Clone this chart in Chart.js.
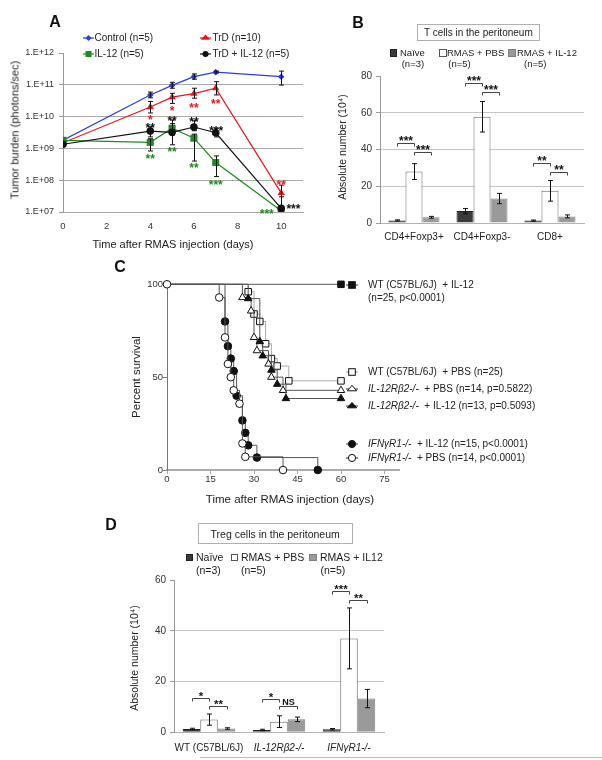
<!DOCTYPE html>
<html>
<head>
<meta charset="utf-8">
<title>Tumor burden, T cells, survival and Treg cells</title>
<script src="https://cdn.jsdelivr.net/npm/chart.js@4.4.0/dist/chart.umd.min.js"></script>
<style>
  body { margin: 0; width: 602px; height: 760px; position: relative; overflow: hidden; background: #fff;
         font-family: "Liberation Sans", Arial, sans-serif; color: #222; }
  canvas { position: absolute; }
  .txt { position: absolute; white-space: nowrap; line-height: 1; font-size: 10px; }
  .c { transform: translate(-50%, -50%); }
  .l { transform: translateY(-50%); }
  .rot { transform: translate(-50%, -50%) rotate(-90deg); }
  .panel { font-weight: bold; font-size: 16px; color: #111; }
  .box { position: absolute; border: 1px solid #b0b0b0; box-sizing: border-box; display: flex;
         align-items: center; justify-content: center; font-size: 10px; }
  .sw { position: absolute; width: 7px; height: 7px; box-sizing: border-box; border: 1px solid #555; }
  .rule { position: absolute; left: 200px; top: 757px; width: 402px; height: 1px; background: #b8b8b8; }
</style>
</head>
<body>
<canvas id="burden" width="320" height="260" style="left:0;top:0"></canvas>
<canvas id="tcells" width="272" height="190" style="left:330px;top:60px"></canvas>
<canvas id="survival" width="290" height="225" style="left:130px;top:270px"></canvas>
<canvas id="treg" width="280" height="190" style="left:120px;top:570px"></canvas>
<div class="rule"></div>
<script>
// ---- A: tumour burden (log scale) ----
const tumorDays = [0, 4, 5, 6, 7, 10];
const tumorXTicks = [0, 2, 4, 6, 8, 10];
const tumorYExps = [7, 8, 9, 10, 11, 12];
const controlBurden = [1.8e9, 4.8e10, 9.6e10, 1.8e11, 2.5e11, 1.8e11];
const controlLow = [null, 3.9e10, 7.8e10, 1.5e11, 2.35e11, 9.8e10];
const controlHigh = [null, 5.9e10, 1.2e11, 2.2e11, 2.7e11, 2.7e11];
const trdBurden = [1.5e9, 2.0e10, 4.1e10, 5.3e10, 7.8e10, 4.0e7];
const trdLow = [null, 1.3e10, 2.6e10, 3.8e10, 4.8e10, 1.5e7];
const trdHigh = [null, 3.0e10, 5.4e10, 7.8e10, 1.25e11, 7.0e7];
const il12Burden = [1.8e9, 1.55e9, 4.3e9, 2.1e9, 3.6e8, 1.1e7];
const il12Low = [null, 8.3e8, 2.6e9, 4.0e8, 1.3e8, null];
const il12High = [null, 2.0e9, 6.0e9, 2.8e9, 5.8e8, null];
const comboBurden = [1.35e9, 3.5e9, 3.2e9, 4.7e9, 3.1e9, 1.3e7];
const comboLow = [null, 2.3e9, 1.3e9, 3.6e9, 2.3e9, 1.1e7];
const comboHigh = [null, 4.8e9, 7.8e9, 7.4e9, 4.3e9, 3.0e7];
const tumorStars = [
  { x: 4, y: 1.0e10, text: '*', color: '#e8151b' },
  { x: 5, y: 1.9e10, text: '*', color: '#e8151b' },
  { x: 6, y: 2.4e10, text: '**', color: '#e8151b' },
  { x: 7, y: 3.2e10, text: '**', color: '#e8151b' },
  { x: 10, y: 9.0e7, text: '**', color: '#e8151b' },
  { x: 4, y: 5.6e9, text: '**', color: '#111' },
  { x: 5, y: 8.9e9, text: '**', color: '#111' },
  { x: 6, y: 8.2e9, text: '**', color: '#111' },
  { x: 7.02, y: 4.5e9, text: '***', color: '#111' },
  { x: 10.56, y: 1.5e7, text: '***', color: '#111' },
  { x: 4, y: 5.8e8, text: '**', color: '#1f8a1f' },
  { x: 5, y: 9.4e8, text: '**', color: '#1f8a1f' },
  { x: 6, y: 2.9e8, text: '**', color: '#1f8a1f' },
  { x: 7, y: 9.0e7, text: '***', color: '#1f8a1f' },
  { x: 9.34, y: 1.07e7, text: '***', color: '#1f8a1f' }
];

// ---- B: T cells in the peritoneum ----
const tcellGroups = ['CD4+Foxp3+', 'CD4+Foxp3-', 'CD8+'];
const tcellTicks = [0, 20, 40, 60, 80];
const tcellNaive = [1.4, 6.5, 1.3];
const tcellNaiveSem = [0.3, 1.4, 0.3];
const tcellPbs = [28, 57.8, 17.5];
const tcellPbsSem = [4.3, 8.3, 5.6];
const tcellIl12 = [3.1, 13.3, 3.6];
const tcellIl12Sem = [0.5, 2.8, 0.8];
const tcellBrackets = [
  { cat: 0, from: 0, to: 1, y: 43.6, label: '***' },
  { cat: 0, from: 1, to: 2, y: 38.7, label: '***' },
  { cat: 1, from: 0, to: 1, y: 76, label: '***' },
  { cat: 1, from: 1, to: 2, y: 71.4, label: '***' },
  { cat: 2, from: 0, to: 1, y: 32.4, label: '**' },
  { cat: 2, from: 1, to: 2, y: 27.5, label: '**' }
];

// ---- C: survival (Kaplan-Meier steps) ----
const survXTicks = [0, 15, 30, 45, 60, 75];
const survYTicks = [0, 50, 100];
const wtIl12Days = [0, 60];
const wtIl12Surv = [100, 100];
const wtPbsDays = [0, 28, 30, 32, 34, 36, 38, 42, 60];
const wtPbsSurv = [100, 96, 84, 80, 68, 60, 56, 48, 48];
const rb2PbsDays = [0, 26, 29, 30, 31, 35, 36, 40, 60];
const rb2PbsSurv = [100, 92.9, 85.7, 71.4, 64.3, 57.1, 50, 42.9, 42.9];
const rb2Il12Days = [0, 28, 32, 33, 36, 38, 41, 60];
const rb2Il12Surv = [100, 92.3, 69.2, 61.5, 53.8, 46.2, 38.5, 38.5];
const ifnIl12Days = [0, 20, 21, 22, 23, 24, 26, 27, 28, 31, 52];
const ifnIl12Surv = [100, 80, 66.7, 60, 53.3, 40, 26.7, 20, 13.3, 6.7, 0];
const ifnPbsDays = [0, 18, 20, 21, 22, 23, 25, 26, 27, 40];
const ifnPbsSurv = [100, 92.9, 71.4, 57.1, 50, 42.9, 35.7, 14.3, 7.1, 0];

// ---- D: Treg cells in the peritoneum ----
const tregGroups = ['WT (C57BL/6J)', 'IL-12R\u03b22-/-', 'IFN\u03b3R1-/-'];
const tregTicks = [0, 20, 40, 60];
const tregNaive = [1.3, 0.9, 1.2];
const tregNaiveSem = [0.3, 0.3, 0.3];
const tregPbs = [5.0, 4.2, 37];
const tregPbsSem = [2.2, 2.3, 12];
const tregIl12 = [1.5, 5.1, 13.3];
const tregIl12Sem = [0.3, 0.9, 3.6];
const tregBrackets = [
  { cat: 0, from: 0, to: 1, y: 13.5, label: '*' },
  { cat: 0, from: 1, to: 2, y: 10.5, label: '**' },
  { cat: 1, from: 0, to: 1, y: 13.3, label: '*' },
  { cat: 1, from: 1, to: 2, y: 10.3, label: 'NS' },
  { cat: 2, from: 0, to: 1, y: 55.5, label: '***' },
  { cat: 2, from: 1, to: 2, y: 52.3, label: '**' }
];

const fam = '"Liberation Sans", Arial, sans-serif';
Chart.defaults.font.family = fam;
Chart.defaults.color = '#222';
Chart.defaults.animation = false;
Chart.defaults.events = [];
Chart.defaults.plugins.legend.display = false;
Chart.defaults.plugins.tooltip.enabled = false;

const pts = (xs, ys) => xs.map((x, i) => ({ x: x, y: ys[i] }));
const hideTop = top => c => (c.tick && c.tick.value >= top ? 'rgba(0,0,0,0)' : '#c4c4c4');

// vertical error bars with caps, read from errLow / errHigh on each dataset
function errorBars(cap) {
  return {
    id: 'errorBars',
    afterDatasetsDraw(chart) {
      const ctx = chart.ctx, y = chart.scales.y;
      ctx.save();
      ctx.strokeStyle = '#111';
      ctx.lineWidth = 1;
      chart.data.datasets.forEach((ds, i) => {
        if (!ds.errLow) return;
        chart.getDatasetMeta(i).data.forEach((el, j) => {
          if (ds.errLow[j] == null) return;
          const x = Math.round(el.x) + 0.5;
          const y1 = y.getPixelForValue(ds.errLow[j]);
          const y2 = y.getPixelForValue(ds.errHigh[j]);
          ctx.beginPath();
          ctx.moveTo(x, y1); ctx.lineTo(x, y2);
          ctx.moveTo(x - cap, y1); ctx.lineTo(x + cap, y1);
          ctx.moveTo(x - cap, y2); ctx.lineTo(x + cap, y2);
          ctx.stroke();
        });
      });
      ctx.restore();
    }
  };
}

// significance stars placed at data positions
function starLabels(items) {
  return {
    id: 'starLabels',
    afterDatasetsDraw(chart) {
      const ctx = chart.ctx, sx = chart.scales.x, sy = chart.scales.y;
      ctx.save();
      ctx.font = 'bold 12px ' + fam;
      ctx.textAlign = 'center';
      ctx.textBaseline = 'alphabetic';
      items.forEach(s => {
        ctx.fillStyle = s.color;
        ctx.fillText(s.text, sx.getPixelForValue(s.x), sy.getPixelForValue(s.y) + 7);
      });
      ctx.restore();
    }
  };
}

// comparison brackets between two bars of a group
function brackets(items, size) {
  return {
    id: 'brackets',
    afterDatasetsDraw(chart) {
      const ctx = chart.ctx, y = chart.scales.y;
      ctx.save();
      ctx.strokeStyle = '#444';
      ctx.fillStyle = '#111';
      ctx.lineWidth = 1;
      ctx.textAlign = 'center';
      ctx.textBaseline = 'alphabetic';
      items.forEach(b => {
        const xa = Math.round(chart.getDatasetMeta(b.from).data[b.cat].x) + 0.5;
        const xb = Math.round(chart.getDatasetMeta(b.to).data[b.cat].x) + 0.5;
        const yy = Math.round(y.getPixelForValue(b.y)) + 0.5;
        ctx.beginPath();
        ctx.moveTo(xa, yy + 3); ctx.lineTo(xa, yy); ctx.lineTo(xb, yy); ctx.lineTo(xb, yy + 3);
        ctx.stroke();
        const stars = /^\*+$/.test(b.label);
        const fs = stars ? size : size - 2.5;
        ctx.font = 'bold ' + fs + 'px ' + fam;
        ctx.fillText(b.label, (xa + xb) / 2, yy - 5 + (stars ? 0.58 : 0.36) * fs);
      });
      ctx.restore();
    }
  };
}

// ---- chart A ----
function tumorSet(label, vals, lo, hi, color, style, r) {
  return {
    label: label, data: pts(tumorDays, vals), errLow: lo, errHigh: hi,
    borderColor: color, backgroundColor: color, borderWidth: 1.2,
    pointStyle: style, pointRadius: r, pointBorderWidth: 0, pointBackgroundColor: color
  };
}
new Chart(document.getElementById('burden'), {
  type: 'line',
  data: {
    datasets: [
      tumorSet('TrD + IL-12 (n=5)', comboBurden, comboLow, comboHigh, '#111', 'circle', 3.8),
      tumorSet('IL-12 (n=5)', il12Burden, il12Low, il12High, '#1f8a1f', 'rect', 5),
      tumorSet('TrD (n=10)', trdBurden, trdLow, trdHigh, '#e8151b', 'triangle', 4.2),
      tumorSet('Control (n=5)', controlBurden, controlLow, controlHigh, '#2a3be6', 'rectRot', 3.3)
    ]
  },
  options: {
    responsive: false,
    devicePixelRatio: 1,
    layout: { padding: { left: 13, top: 53, right: 17, bottom: 18 } },
    scales: {
      x: {
        type: 'linear', min: 0, max: 11,
        afterBuildTicks: s => { s.ticks = tumorXTicks.map(v => ({ value: v })); },
        afterFit: s => { s.height = 30; },
        grid: { display: false, drawTicks: false },
        border: { color: '#a8a8a8' },
        ticks: { font: { size: 9.5 }, color: '#333', padding: 8.5 }
      },
      y: {
        type: 'logarithmic', min: 1e7, max: 1e12,
        afterBuildTicks: s => { s.ticks = tumorYExps.map(e => ({ value: Math.pow(10, e) })); },
        afterFit: s => { s.width = 50; },
        grid: { color: c => (c.tick && c.tick.value >= 1e12 ? 'rgba(0,0,0,0)' : '#aaaaaa'), tickLength: 4, tickColor: '#999' },
        border: { color: '#999' },
        ticks: {
          font: { size: 9 }, color: '#333', padding: 5,
          callback: v => '1.E+' + String(Math.round(Math.log10(v))).padStart(2, '0')
        }
      }
    }
  },
  plugins: [errorBars(2.5), starLabels(tumorStars)]
});

// ---- bar charts B and D ----
function barSet(label, vals, sem, fill, edge) {
  return {
    label: label, data: vals, backgroundColor: fill, borderColor: edge, borderWidth: 1,
    errLow: vals.map((v, i) => v - sem[i]), errHigh: vals.map((v, i) => v + sem[i]),
    barPercentage: 1, categoryPercentage: 0.75
  };
}
function barOptions(max, ticks, pad, xPad, xHeight, italic) {
  return {
    responsive: false,
    devicePixelRatio: 1,
    layout: { padding: pad },
    scales: {
      x: {
        afterFit: s => { s.height = xHeight; },
        grid: { display: false, drawTicks: false },
        border: { color: '#b4b4b4' },
        ticks: {
          color: '#222', padding: xPad, maxRotation: 0, minRotation: 0, autoSkip: false,
          font: c => ({ size: 10, style: italic && c.index > 0 ? 'italic' : 'normal' })
        }
      },
      y: {
        min: 0, max: max,
        afterBuildTicks: s => { s.ticks = ticks.map(v => ({ value: v })); },
        afterFit: s => { s.width = 40; },
        grid: { color: hideTop(max), tickLength: 4, tickColor: '#999' },
        border: { color: '#999' },
        ticks: { font: { size: 10 }, color: '#333', padding: 4 }
      }
    }
  };
}
new Chart(document.getElementById('tcells'), {
  type: 'bar',
  data: {
    labels: tcellGroups,
    datasets: [
      barSet('Na\u00efve (n=3)', tcellNaive, tcellNaiveSem, '#3a3a3a', '#222'),
      barSet('RMAS + PBS (n=5)', tcellPbs, tcellPbsSem, '#ffffff', '#666'),
      barSet('RMAS + IL-12 (n=5)', tcellIl12, tcellIl12Sem, '#9a9a9a', '#808080')
    ]
  },
  options: barOptions(80, tcellTicks, { left: 10, top: 16, right: 18, bottom: 0 }, 8, 27, false),
  plugins: [errorBars(2.5), brackets(tcellBrackets, 12)]
});
new Chart(document.getElementById('treg'), {
  type: 'bar',
  data: {
    labels: tregGroups,
    datasets: [
      barSet('Na\u00efve (n=3)', tregNaive, tregNaiveSem, '#3a3a3a', '#222'),
      barSet('RMAS + PBS (n=5)', tregPbs, tregPbsSem, '#ffffff', '#666'),
      barSet('RMAS + IL12 (n=5)', tregIl12, tregIl12Sem, '#9a9a9a', '#808080')
    ]
  },
  options: barOptions(60, tregTicks, { left: 14, top: 6.7, right: 16, bottom: 0 }, 9.5, 27.7, true),
  plugins: [errorBars(2.5), brackets(tregBrackets, 11.5)]
});

// ---- chart C ----
function survSet(label, days, surv, style, fill, line, r, showStart) {
  return {
    label: label, data: pts(days, surv), stepped: true, clip: false,
    borderColor: line, borderWidth: 1, fill: false,
    pointStyle: style, pointBackgroundColor: fill, pointBorderColor: '#111', pointBorderWidth: 1,
    pointRadius: days.map((d, i) => (i === 0 && !showStart ? 0 : r))
  };
}
new Chart(document.getElementById('survival'), {
  type: 'line',
  data: {
    datasets: [
      survSet('IFN\u03b3R1-/- + PBS', ifnPbsDays, ifnPbsSurv, 'circle', '#fff', '#555', 3.8, true),
      survSet('IFN\u03b3R1-/- + IL-12', ifnIl12Days, ifnIl12Surv, 'circle', '#111', '#555', 3.8, false),
      survSet('IL-12R\u03b22-/- + IL-12', rb2Il12Days, rb2Il12Surv, 'triangle', '#111', '#555', 4.3, false),
      survSet('IL-12R\u03b22-/- + PBS', rb2PbsDays, rb2PbsSurv, 'triangle', '#fff', '#555', 4.3, false),
      survSet('WT (C57BL/6J) + PBS', wtPbsDays, wtPbsSurv, 'rect', '#fff', '#a8a8a8', 4.6, false),
      survSet('WT (C57BL/6J) + IL-12', wtIl12Days, wtIl12Surv, 'rect', '#111', '#555', 4.6, false)
    ]
  },
  options: {
    responsive: false,
    devicePixelRatio: 1,
    layout: { padding: { left: 7, top: 14.3, right: 21, bottom: 5 } },
    scales: {
      x: {
        type: 'linear', min: 0, max: 80,
        afterBuildTicks: s => { s.ticks = survXTicks.map(v => ({ value: v })); },
        afterFit: s => { s.height = 20; },
        grid: { drawOnChartArea: false, tickLength: 4, tickColor: '#aaa' },
        border: { color: '#aaa', width: 2 },
        ticks: { font: { size: 9.5 }, color: '#333', padding: 0 }
      },
      y: {
        min: 0, max: 100,
        afterBuildTicks: s => { s.ticks = survYTicks.map(v => ({ value: v })); },
        afterFit: s => { s.width = 30; },
        grid: { drawOnChartArea: false, tickLength: 4, tickColor: '#777' },
        border: { color: '#777' },
        ticks: { font: { size: 9.5 }, color: '#333', padding: 0 }
      }
    }
  }
});

// ---- text, legends and frames ----
function put(html, x, y, cls, css) {
  const d = document.createElement('div');
  d.className = 'txt ' + (cls || '');
  d.style.left = x + 'px';
  d.style.top = y + 'px';
  if (css) d.style.cssText += css;
  d.innerHTML = html;
  document.body.appendChild(d);
}
function box(html, x, y, w, h, size) {
  const d = document.createElement('div');
  d.className = 'box';
  d.style.cssText = 'left:' + x + 'px;top:' + y + 'px;width:' + w + 'px;height:' + h + 'px;font-size:' + size + 'px';
  d.innerHTML = html;
  document.body.appendChild(d);
}
function swatch(x, y, fill, edge, s) {
  const d = document.createElement('div');
  d.className = 'sw';
  d.style.cssText = 'left:' + x + 'px;top:' + y + 'px;width:' + s + 'px;height:' + s + 'px;background:' + fill + ';border-color:' + edge;
  document.body.appendChild(d);
}
function shape(kind, cx, cy, r, fill, stroke) {
  if (kind === 'circle') return '<circle cx="' + cx + '" cy="' + cy + '" r="' + r + '" fill="' + fill + '" stroke="' + stroke + '"/>';
  if (kind === 'square') return '<rect x="' + (cx - r) + '" y="' + (cy - r) + '" width="' + 2 * r + '" height="' + 2 * r + '" fill="' + fill + '" stroke="' + stroke + '"/>';
  if (kind === 'diamond') return '<polygon points="' + (cx - r) + ',' + cy + ' ' + cx + ',' + (cy - r) + ' ' + (cx + r) + ',' + cy + ' ' + cx + ',' + (cy + r) + '" fill="' + fill + '"/>';
  const h = r * 1.5, w = r * 1.3;
  return '<polygon points="' + cx + ',' + (cy - r) + ' ' + (cx + w) + ',' + (cy + h - r) + ' ' + (cx - w) + ',' + (cy + h - r) + '" fill="' + fill + '" stroke="' + stroke + '"/>';
}
function legendMark(x, y, half, lineColor, kind, r, fill, stroke) {
  const w = half * 2 + 2, hgt = 14;
  const d = document.createElement('div');
  d.style.cssText = 'position:absolute;left:' + (x - half - 1) + 'px;top:' + (y - 7) + 'px;width:' + w + 'px;height:' + hgt + 'px';
  d.innerHTML = '<svg width="' + w + '" height="' + hgt + '"><line x1="1" y1="7" x2="' + (w - 1) + '" y2="7" stroke="' + lineColor + '" stroke-width="1.2"/>' +
    shape(kind, half + 1, 7, r, fill, stroke) + '</svg>';
  document.body.appendChild(d);
}

// A
put('A', 55, 22, 'c panel');
legendMark(88, 38.3, 5.5, '#2a3be6', 'diamond', 3, '#2a3be6', 'none');
put('Control (n=5)', 94.5, 38.3, 'l');
legendMark(205.5, 38.3, 5.5, '#e8151b', 'triangle', 3.6, '#e8151b', 'none');
put('TrD (n=10)', 212.5, 38.3, 'l');
legendMark(88, 54.3, 5.5, '#1f8a1f', 'square', 3, '#1f8a1f', 'none');
put('IL-12 (n=5)', 94.5, 54.3, 'l');
legendMark(205.5, 54.3, 5.5, '#111', 'circle', 3, '#111', 'none');
put('TrD + IL-12 (n=5)', 212.5, 54.3, 'l');
put('Tumor burden (photons/sec)', 15, 130, 'rot', 'font-size:11px');
put('Time after RMAS injection (days)', 173, 244, 'c', 'font-size:11px');

// B
put('B', 358, 22.7, 'c panel');
box('T cells in the peritoneum', 416.7, 24, 123.3, 17, 10);
swatch(389.5, 49.3, '#3a3a3a', '#222', 7.5);
put('Na\u00efve', 400, 52.7, 'l', 'font-size:9.5px');
put('(n=3)', 401.7, 63.7, 'l', 'font-size:9.5px');
swatch(439, 49.3, '#fff', '#555', 7.5);
put('RMAS + PBS', 447, 52.7, 'l', 'font-size:9.5px');
put('(n=5)', 448.3, 63.7, 'l', 'font-size:9.5px');
swatch(508, 49.3, '#9a9a9a', '#808080', 7.5);
put('RMAS + IL-12', 517, 52.7, 'l', 'font-size:9.5px');
put('(n=5)', 524, 63.7, 'l', 'font-size:9.5px');
put('Absolute number (10\u2074)', 341.7, 146.7, 'rot', 'font-size:10.5px');

// C
put('C', 120, 267, 'c panel');
legendMark(352, 285, 6, '#555', 'square', 3.3, '#111', '#111');
put('WT (C57BL/6J)&nbsp; + IL-12', 368, 285, 'l');
put('(n=25, p&lt;0.0001)', 368, 298.3, 'l');
legendMark(352, 371.7, 6, '#a8a8a8', 'square', 3.3, '#fff', '#111');
put('WT (C57BL/6J)&nbsp; + PBS (n=25)', 368, 371.7, 'l');
legendMark(352, 389, 6, '#555', 'triangle', 3.6, '#fff', '#111');
put('<i>IL-12R\u03b22-/-</i>&nbsp; + PBS (n=14, p=0.5822)', 368, 389, 'l');
legendMark(352, 406, 6, '#555', 'triangle', 3.6, '#111', '#111');
put('<i>IL-12R\u03b22-/-</i>&nbsp; + IL-12 (n=13, p=0.5093)', 368, 406, 'l');
legendMark(352, 444, 6, '#555', 'circle', 3.6, '#111', '#111');
put('<i>IFN\u03b3R1-/-</i>&nbsp; + IL-12 (n=15, p&lt;0.0001)', 368, 444, 'l');
legendMark(352, 458, 6, '#555', 'circle', 3.6, '#fff', '#111');
put('<i>IFN\u03b3R1-/-</i>&nbsp; + PBS (n=14, p&lt;0.0001)', 368, 458, 'l');
put('Percent survival', 136.7, 376.7, 'rot', 'font-size:11.5px');
put('Time after RMAS injection (days)', 290, 500, 'c', 'font-size:11.5px');

// D
put('D', 111, 525, 'c panel');
box('Treg cells in the peritoneum', 197.7, 523, 155, 21, 10.5);
swatch(185.5, 553.5, '#3a3a3a', '#222', 7.5);
put('Na\u00efve', 196, 557.3, 'l', 'font-size:10.5px');
put('(n=3)', 196, 569.5, 'l', 'font-size:10.5px');
swatch(230.5, 553.5, '#fff', '#555', 7.5);
put('RMAS + PBS', 241, 557.3, 'l', 'font-size:10.5px');
put('(n=5)', 241, 569.5, 'l', 'font-size:10.5px');
swatch(309, 553.5, '#9a9a9a', '#808080', 7.5);
put('RMAS + IL12', 320, 557.3, 'l', 'font-size:10.5px');
put('(n=5)', 320.5, 569.5, 'l', 'font-size:10.5px');
put('Absolute number (10\u2074)', 134, 658, 'rot', 'font-size:10.5px');
</script>
</body>
</html>
